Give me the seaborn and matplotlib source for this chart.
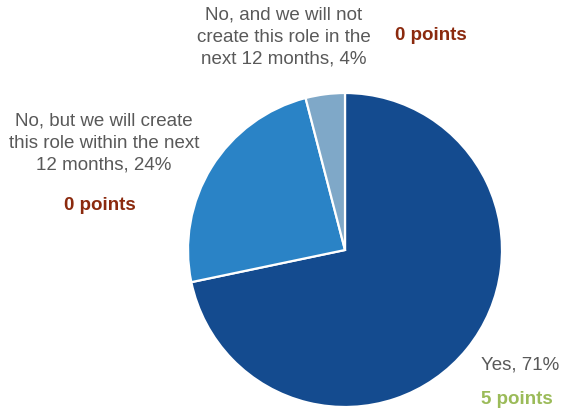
import matplotlib
matplotlib.use("Agg")
import matplotlib.pyplot as plt
import seaborn as sns

# Survey responses: does the organisation have this role?
categories = [
    "Yes",
    "No, but we will create\nthis role within the next\n12 months",
    "No, and we will not\ncreate this role in the\nnext 12 months",
]
shares = [71, 24, 4]
points = [5, 0, 0]

slice_colors = ["#144B8F", "#2A83C6", "#7FA8C8"]
points_colors = ["#9BBB59", "#8B2A0E", "#8B2A0E"]
text_gray = "#595959"

sns.set_style("white")
plt.rcParams["font.family"] = ["Liberation Sans", "DejaVu Sans"]

W, H = 561, 412
fig = plt.figure(figsize=(W / 100, H / 100), dpi=100)

# Pie axes placed as a square box in pixel space
cx, cy, r = 345, 250, 157
ax = fig.add_axes([(cx - r) / W, (H - (cy + r)) / H, 2 * r / W, 2 * r / H])
ax.pie(
    shares,
    colors=slice_colors,
    startangle=90,
    counterclock=False,
    radius=1.0,
    wedgeprops=dict(edgecolor="white", linewidth=1.6),
)
ax.set_xlim(-1.0, 1.0)
ax.set_ylim(-1.0, 1.0)
ax.set_aspect("auto")
ax.axis("off")


def put(x, y, s, **kw):
    fig.text(x / W, 1 - y / H, s, ha="center", va="center", **kw)


# Category labels with their shares
label_pos = [(520, 365), (104, 143), (284, 37)]
for cat, share, (x, y) in zip(categories, shares, label_pos):
    put(x, y, f"{cat}, {share}%", fontsize=13.5, color=text_gray, linespacing=1.38)

# Points awarded for each answer
points_pos = [(517, 400), (100, 205), (431, 35)]
for pts, col, (x, y) in zip(points, points_colors, points_pos):
    put(x, y, f"{pts} points", fontsize=13.5, color=col, fontweight="bold")

fig.savefig("out.png", dpi=100)
